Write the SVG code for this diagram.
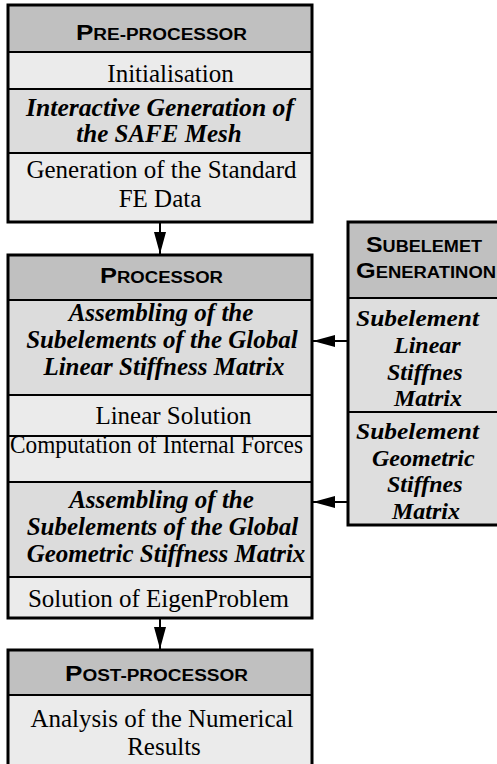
<svg xmlns="http://www.w3.org/2000/svg" width="497" height="764" viewBox="0 0 497 764">
<style>
.hd{fill:#c0c0c0}
.lt{fill:#ebebeb}
.dk{fill:#dcdcdc}
.sb{fill:#dedede}
.sep{stroke:#000;stroke-width:2}
.box{fill:none;stroke:#000;stroke-width:3}
.h{font-family:"Liberation Sans",Arial,sans-serif;font-weight:bold;fill:#000}
.big{font-size:22px}
.sm{font-size:16px}
.t{font-family:"Liberation Serif","Times New Roman",serif;font-size:25px;fill:#000;text-anchor:middle}
.bi{font-family:"Liberation Serif","Times New Roman",serif;font-size:25px;font-weight:bold;font-style:italic;fill:#000}
.s24{font-size:24px}
.c{text-anchor:middle}
.con{stroke:#000;stroke-width:2;fill:none;marker-end:url(#ah)}
</style>
<defs>
<marker id="ah" viewBox="0 0 22 12" refX="22" refY="6" markerWidth="22" markerHeight="12" markerUnits="userSpaceOnUse" orient="auto">
<path d="M0,0 L22,6 L0,12 z" fill="#000"/>
</marker>
</defs>
<g id="connectors">
<line class="con" x1="160" y1="223" x2="160" y2="254"/>
<line class="con" x1="160" y1="619" x2="160" y2="649"/>
<line class="con" x1="348" y1="341" x2="313" y2="341"/>
<line class="con" x1="348" y1="502" x2="313" y2="502"/>
</g>
<g id="preprocessor">
<rect class="hd" x="8" y="5" width="304" height="47"/>
<rect class="lt" x="8" y="52" width="304" height="37"/>
<rect class="dk" x="8" y="89" width="304" height="64"/>
<rect class="lt" x="8" y="153" width="304" height="69"/>
<line class="sep" x1="8" y1="52" x2="312" y2="52"/>
<line class="sep" x1="8" y1="89" x2="312" y2="89"/>
<line class="sep" x1="8" y1="153" x2="312" y2="153"/>
<rect class="box" x="8" y="5" width="304" height="217"/>
<text class="h" x="76" y="40" textLength="171" lengthAdjust="spacingAndGlyphs"><tspan class="big">P</tspan><tspan class="sm">RE-PROCESSOR</tspan></text>
<text class="t" x="170.5" y="82">Initialisation</text>
<text class="bi c" x="160" y="116" textLength="268" lengthAdjust="spacingAndGlyphs">Interactive Generation of</text>
<text class="bi c" x="159" y="142">the SAFE Mesh</text>
<text class="t" x="161.5" y="178">Generation of the Standard</text>
<text class="t" x="160" y="207">FE Data</text>
</g>
<g id="processor">
<rect class="hd" x="8" y="255" width="304" height="45"/>
<rect class="dk" x="8" y="300" width="304" height="95"/>
<rect class="lt" x="8" y="395" width="304" height="41"/>
<rect class="lt" x="8" y="436" width="304" height="46"/>
<rect class="dk" x="8" y="482" width="304" height="95"/>
<rect class="lt" x="8" y="577" width="304" height="41"/>
<line class="sep" x1="8" y1="300" x2="312" y2="300"/>
<line class="sep" x1="8" y1="395" x2="312" y2="395"/>
<line class="sep" x1="8" y1="436" x2="312" y2="436"/>
<line class="sep" x1="8" y1="482" x2="312" y2="482"/>
<line class="sep" x1="8" y1="577" x2="312" y2="577"/>
<rect class="box" x="8" y="255" width="304" height="363"/>
<text class="h" x="100" y="283" textLength="123" lengthAdjust="spacingAndGlyphs"><tspan class="big">P</tspan><tspan class="sm">ROCESSOR</tspan></text>
<text class="bi c" x="161" y="321">Assembling of the</text>
<text class="bi c" x="162" y="348">Subelements of the Global</text>
<text class="bi c" x="164" y="375">Linear Stiffness Matrix</text>
<text class="t" x="173.5" y="424">Linear Solution</text>
<text class="t" x="156.5" y="453" textLength="293" lengthAdjust="spacingAndGlyphs">Computation of Internal Forces</text>
<text class="bi c" x="161.5" y="508">Assembling of the</text>
<text class="bi c" x="162.5" y="535">Subelements of the Global</text>
<text class="bi c" x="166" y="562">Geometric Stiffness Matrix</text>
<text class="t" x="158.5" y="607">Solution of EigenProblem</text>
</g>
<g id="postprocessor">
<rect class="hd" x="8" y="650" width="304" height="45"/>
<rect class="lt" x="8" y="695" width="304" height="72"/>
<line class="sep" x1="8" y1="695" x2="312" y2="695"/>
<rect class="box" x="8" y="650" width="304" height="117"/>
<text class="h" x="65" y="681" textLength="183" lengthAdjust="spacingAndGlyphs"><tspan class="big">P</tspan><tspan class="sm">OST-PROCESSOR</tspan></text>
<text class="t" x="162" y="727">Analysis of the Numerical</text>
<text class="t" x="164" y="755">Results</text>
</g>
<g id="subelement">
<rect class="hd" x="348" y="222" width="152" height="76"/>
<rect class="sb" x="348" y="298" width="152" height="114"/>
<rect class="sb" x="348" y="412" width="152" height="113"/>
<line class="sep" x1="348" y1="298" x2="500" y2="298"/>
<line class="sep" x1="348" y1="412" x2="500" y2="412"/>
<rect class="box" x="348" y="222" width="152" height="303"/>
<text class="h" x="366" y="252" textLength="116" lengthAdjust="spacingAndGlyphs"><tspan class="big">S</tspan><tspan class="sm">UBELEMET</tspan></text>
<text class="h" x="356" y="278" textLength="140" lengthAdjust="spacingAndGlyphs"><tspan class="big">G</tspan><tspan class="sm">ENERATINON</tspan></text>
<text class="bi s24" x="356" y="326" textLength="123" lengthAdjust="spacingAndGlyphs">Subelement</text>
<text class="bi s24" x="394" y="352.8">Linear</text>
<text class="bi s24" x="387" y="379.6">Stiffnes</text>
<text class="bi s24" x="394" y="406.4">Matrix</text>
<text class="bi s24" x="356" y="439" textLength="123" lengthAdjust="spacingAndGlyphs">Subelement</text>
<text class="bi s24" x="372" y="465.7">Geometric</text>
<text class="bi s24" x="387" y="492.4">Stiffnes</text>
<text class="bi s24" x="392" y="519.1">Matrix</text>
</g>
</svg>
